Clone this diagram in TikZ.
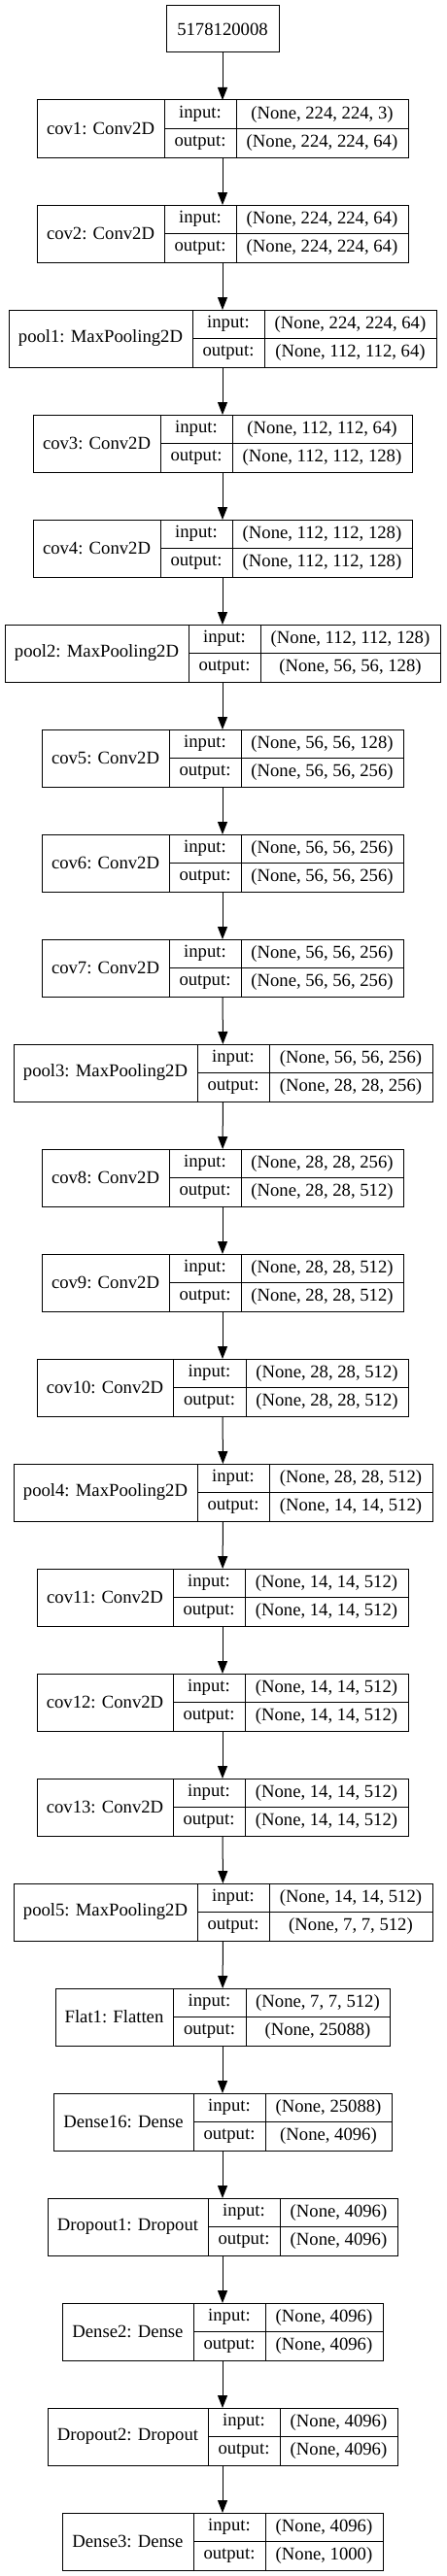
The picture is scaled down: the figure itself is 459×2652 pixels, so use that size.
\documentclass[tikz,border=0pt]{standalone}
\usepackage{fontspec}
\setmainfont{Liberation Serif}
\usetikzlibrary{arrows.meta}
\tikzstyle{cell} = [rectangle, draw=black, line width=1pt, inner sep=0pt, outer sep=0pt, anchor=north west, font=\fontsize{18.67}{20}\selectfont]
\tikzstyle{arrow} = [line width=1pt, -{Triangle[length=13pt,width=10pt]}]
% id, top, x0, x1, x2, x3, name, input, output
\newcommand{\netlayer}[9]{%
  \node[cell, minimum width=#6-#3, minimum height=59] (#1) at (#3,#2) {};
  \node[cell, minimum width=#4-#3, minimum height=59] (#1name) at (#3,#2) {#7};
  \node[cell, minimum width=#5-#4, minimum height=29.5] (#1in) at (#4,#2) {input:};
  \node[cell, minimum width=#5-#4, minimum height=29.5] (#1out) at (#4,#2+29.5) {output:};
  \node[cell, minimum width=#6-#5, minimum height=29.5] (#1inval) at (#5,#2) {#8};
  \node[cell, minimum width=#6-#5, minimum height=29.5] (#1outval) at (#5,#2+29.5) {#9};
}

\begin{document}
\begin{tikzpicture}[x=1pt, y=-1pt]
  \useasboundingbox (0,0) rectangle (459,2652);
  \node[cell, minimum width=116, minimum height=48] (inp) at (171,6) {5178120008};
  \netlayer{cov1}{103}{38}{169}{243}{420}{cov1: Conv2D}{(None, 224, 224, 3)}{(None, 224, 224, 64)}
  \netlayer{cov2}{211}{38}{169}{243}{420}{cov2: Conv2D}{(None, 224, 224, 64)}{(None, 224, 224, 64)}
  \netlayer{pool1}{319}{9}{198}{272}{449}{pool1: MaxPooling2D}{(None, 224, 224, 64)}{(None, 112, 112, 64)}
  \netlayer{cov3}{427}{34}{165}{239}{424}{cov3: Conv2D}{(None, 112, 112, 64)}{(None, 112, 112, 128)}
  \netlayer{cov4}{535}{34}{165}{239}{424}{cov4: Conv2D}{(None, 112, 112, 128)}{(None, 112, 112, 128)}
  \netlayer{pool2}{643}{5}{194}{268}{453}{pool2: MaxPooling2D}{(None, 112, 112, 128)}{(None, 56, 56, 128)}
  \netlayer{cov5}{751}{43}{174}{248}{415}{cov5: Conv2D}{(None, 56, 56, 128)}{(None, 56, 56, 256)}
  \netlayer{cov6}{859}{43}{174}{248}{415}{cov6: Conv2D}{(None, 56, 56, 256)}{(None, 56, 56, 256)}
  \netlayer{cov7}{967}{43}{174}{248}{415}{cov7: Conv2D}{(None, 56, 56, 256)}{(None, 56, 56, 256)}
  \netlayer{pool3}{1075}{14}{203}{277}{445}{pool3: MaxPooling2D}{(None, 56, 56, 256)}{(None, 28, 28, 256)}
  \netlayer{cov8}{1183}{43}{174}{248}{415}{cov8: Conv2D}{(None, 28, 28, 256)}{(None, 28, 28, 512)}
  \netlayer{cov9}{1291}{43}{174}{248}{415}{cov9: Conv2D}{(None, 28, 28, 512)}{(None, 28, 28, 512)}
  \netlayer{cov10}{1399}{38}{178}{253}{420}{cov10: Conv2D}{(None, 28, 28, 512)}{(None, 28, 28, 512)}
  \netlayer{pool4}{1507}{14}{203}{277}{445}{pool4: MaxPooling2D}{(None, 28, 28, 512)}{(None, 14, 14, 512)}
  \netlayer{cov11}{1615}{38}{178}{252}{420}{cov11: Conv2D}{(None, 14, 14, 512)}{(None, 14, 14, 512)}
  \netlayer{cov12}{1723}{38}{178}{252}{420}{cov12: Conv2D}{(None, 14, 14, 512)}{(None, 14, 14, 512)}
  \netlayer{cov13}{1831}{38}{178}{252}{420}{cov13: Conv2D}{(None, 14, 14, 512)}{(None, 14, 14, 512)}
  \netlayer{pool5}{1939}{14}{203}{277}{445}{pool5: MaxPooling2D}{(None, 14, 14, 512)}{(None, 7, 7, 512)}
  \netlayer{flat1}{2047}{57}{178}{253}{401}{Flat1: Flatten}{(None, 7, 7, 512)}{(None, 25088)}
  \netlayer{dense16}{2155}{55}{199}{273}{403}{Dense16: Dense}{(None, 25088)}{(None, 4096)}
  \netlayer{drop1}{2263}{49}{214}{288}{409}{Dropout1: Dropout}{(None, 4096)}{(None, 4096)}
  \netlayer{dense2}{2371}{64}{199}{273}{394}{Dense2: Dense}{(None, 4096)}{(None, 4096)}
  \netlayer{drop2}{2479}{49}{214}{288}{409}{Dropout2: Dropout}{(None, 4096)}{(None, 4096)}
  \netlayer{dense3}{2587}{64}{199}{273}{394}{Dense3: Dense}{(None, 4096)}{(None, 1000)}
  \draw[arrow] (inp) -- (cov1);
  \draw[arrow] (cov1) -- (cov2);
  \draw[arrow] (cov2) -- (pool1);
  \draw[arrow] (pool1) -- (cov3);
  \draw[arrow] (cov3) -- (cov4);
  \draw[arrow] (cov4) -- (pool2);
  \draw[arrow] (pool2) -- (cov5);
  \draw[arrow] (cov5) -- (cov6);
  \draw[arrow] (cov6) -- (cov7);
  \draw[arrow] (cov7) -- (pool3);
  \draw[arrow] (pool3) -- (cov8);
  \draw[arrow] (cov8) -- (cov9);
  \draw[arrow] (cov9) -- (cov10);
  \draw[arrow] (cov10) -- (pool4);
  \draw[arrow] (pool4) -- (cov11);
  \draw[arrow] (cov11) -- (cov12);
  \draw[arrow] (cov12) -- (cov13);
  \draw[arrow] (cov13) -- (pool5);
  \draw[arrow] (pool5) -- (flat1);
  \draw[arrow] (flat1) -- (dense16);
  \draw[arrow] (dense16) -- (drop1);
  \draw[arrow] (drop1) -- (dense2);
  \draw[arrow] (dense2) -- (drop2);
  \draw[arrow] (drop2) -- (dense3);
\end{tikzpicture}
\end{document}
